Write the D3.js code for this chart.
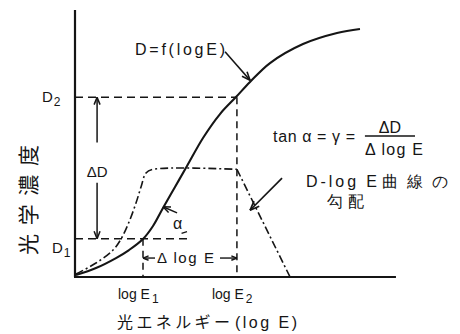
<!DOCTYPE html>
<html><head><meta charset="utf-8">
<script src="https://cdn.jsdelivr.net/npm/d3@7"></script>
<style>
body{margin:0;background:#fff}
svg{display:block}
text{font-family:"Liberation Sans",Arial,sans-serif;fill:#151515}
</style></head><body>
<script>
// ---- data (logE units, density units) ----
const curveLogE = [0.031, 0.656, 1.281, 1.688, 2.125, 2.438, 2.75, 3.125, 3.5, 4.0, 4.531, 5.031, 5.469, 6.094, 7.125, 8.188, 8.906];
const curveD    = [0.022, 0.101, 0.213, 0.303, 0.427, 0.573, 0.775, 1.011, 1.247, 1.562, 1.831, 2.022, 2.191, 2.404, 2.618, 2.742, 2.787];
const gradLogE  = [0.031, 0.656, 1.188, 1.438, 1.688, 1.906, 2.063, 2.219, 2.438, 5.06];
const gradD     = [0.034, 0.157, 0.303, 0.427, 0.618, 0.831, 1.011, 1.169, 1.21, 1.21];
const fallLogE  = [5.06, 6.72];
const fallD     = [1.21, 0];
const logE1 = 2.125, logE2 = 5.06, D1 = 0.43, D2 = 2.02;
const xTickLabels = [{text: "log E", sub: "1", v: logE1}, {text: "log E", sub: "2", v: logE2}];
const yTickLabels = [{text: "D", sub: "1", v: D1}, {text: "D", sub: "2", v: D2}];

const W = 460, H = 334;
const x = d3.scaleLinear().domain([0, 10]).range([75, 395]);
const y = d3.scaleLinear().domain([0, 3]).range([277, 10]);

const svg = d3.select("body").append("svg").attr("width", W).attr("height", H);
const ink = "#151515";

function arrow(x1, y1, x2, y2, len = 8, sw = 1.6) {
  const X1 = x(x1), Y1 = y(y1), X2 = x(x2), Y2 = y(y2);
  svg.append("line").attr("x1", X1).attr("y1", Y1).attr("x2", X2).attr("y2", Y2)
    .attr("stroke", ink).attr("stroke-width", sw);
  const a = Math.atan2(Y1 - Y2, X1 - X2);
  [0.38, -0.38].forEach(d => {
    svg.append("line").attr("x1", X2).attr("y1", Y2)
      .attr("x2", X2 + len * Math.cos(a + d)).attr("y2", Y2 + len * Math.sin(a + d))
      .attr("stroke", ink).attr("stroke-width", sw);
  });
}

// axes
svg.append("line").attr("x1", x(0)).attr("x2", x(0)).attr("y1", y(0)).attr("y2", y(3))
  .attr("stroke", ink).attr("stroke-width", 2.2);
svg.append("line").attr("x1", x(0) - 1).attr("x2", x(10.03)).attr("y1", y(0)).attr("y2", y(0))
  .attr("stroke", ink).attr("stroke-width", 2.2);

// dashed guides
const dash = "8,5";
svg.append("line").attr("x1", x(0)).attr("x2", x(logE2)).attr("y1", y(D2)).attr("y2", y(D2))
  .attr("stroke", ink).attr("stroke-width", 1.5).attr("stroke-dasharray", dash);
svg.append("line").attr("x1", x(0)).attr("x2", x(3.5)).attr("y1", y(D1)).attr("y2", y(D1))
  .attr("stroke", ink).attr("stroke-width", 1.5).attr("stroke-dasharray", dash);
svg.append("line").attr("x1", x(logE1)).attr("x2", x(logE1)).attr("y1", y(D1)).attr("y2", y(0))
  .attr("stroke", ink).attr("stroke-width", 1.5).attr("stroke-dasharray", "7,5");
svg.append("line").attr("x1", x(logE2)).attr("x2", x(logE2)).attr("y1", y(D2)).attr("y2", y(0))
  .attr("stroke", ink).attr("stroke-width", 1.5).attr("stroke-dasharray", "7,5");

// D = f(logE) curve
const line = d3.line().x(d => x(d[0])).y(d => y(d[1])).curve(d3.curveCatmullRom.alpha(0.5));
svg.append("path").attr("d", line(curveLogE.map((v, i) => [v, curveD[i]])))
  .attr("fill", "none").attr("stroke", ink).attr("stroke-width", 2.1);

// gradient curve (dash-dot)
const dd = "8,3,2,3";
svg.append("path").attr("d", line(gradLogE.map((v, i) => [v, gradD[i]])))
  .attr("fill", "none").attr("stroke", ink).attr("stroke-width", 1.6).attr("stroke-dasharray", dd);
svg.append("path").attr("d", d3.line().x(d => x(d[0])).y(d => y(d[1]))(fallLogE.map((v, i) => [v, fallD[i]])))
  .attr("fill", "none").attr("stroke", ink).attr("stroke-width", 1.6).attr("stroke-dasharray", dd);

// Delta D arrows
arrow(0.69, 1.51, 0.69, D2, 8, 1.5);
arrow(0.69, 1.06, 0.69, D1, 8, 1.5);
svg.append("text").attr("x", x(0.69)).attr("y", y(1.12)).attr("text-anchor", "middle")
  .attr("font-size", 15).text("ΔD");

// Delta logE arrows
arrow(2.5, 0.213, logE1, 0.213, 6, 1.4);
arrow(4.53, 0.213, logE2, 0.213, 6, 1.4);
svg.append("text").attr("x", x(2.56)).attr("y", y(0.157)).attr("font-size", 15)
  .attr("textLength", 57).attr("lengthAdjust", "spacing").text("Δ log E");

// alpha
arrow(3.19, 0.72, 2.75, 0.79, 8, 1.5);
svg.append("text").attr("x", x(3.06)).attr("y", y(0.54)).attr("font-size", 16).text("α");
svg.append("line").attr("x1", x(3.33)).attr("y1", y(0.49)).attr("x2", x(3.5)).attr("y2", y(0.51))
  .attr("stroke", ink).attr("stroke-width", 1.3);

// D = f(logE)
svg.append("text").attr("x", x(1.875)).attr("y", y(2.49)).attr("font-size", 16)
  .attr("textLength", 90).attr("lengthAdjust", "spacing").text("D=f(logE)");
arrow(4.69, 2.53, 5.47, 2.21, 9, 1.6);

// tan alpha formula
svg.append("text").attr("x", x(6.19)).attr("y", y(1.52)).attr("font-size", 16)
  .attr("textLength", 82).attr("lengthAdjust", "spacing").text("tan α = γ =");
svg.append("text").attr("x", x(9.84)).attr("y", y(1.62)).attr("font-size", 16)
  .attr("text-anchor", "middle").text("ΔD");
svg.append("line").attr("x1", x(9.06)).attr("x2", x(10.625)).attr("y1", y(1.585)).attr("y2", y(1.585))
  .attr("stroke", ink).attr("stroke-width", 1.4);
svg.append("text").attr("x", x(9.06)).attr("y", y(1.373)).attr("font-size", 16)
  .attr("textLength", 58).attr("lengthAdjust", "spacing").text("Δ log E");

// gradient label
svg.append("text").attr("x", x(7.22)).attr("y", y(1.01)).attr("font-size", 16)
  .attr("textLength", 71).attr("lengthAdjust", "spacing").text("D-log E");
svg.append("text").attr("x", x(9.59)).attr("y", y(1.01)).attr("font-size", 16)
  .attr("textLength", 66).attr("lengthAdjust", "spacing").text("曲線の");
svg.append("text").attr("x", x(7.875)).attr("y", y(0.79)).attr("font-size", 16)
  .attr("textLength", 37).attr("lengthAdjust", "spacing").text("勾配");
arrow(6.47, 1.11, 5.47, 0.75, 10, 1.7);

// x tick labels
xTickLabels.forEach(t => {
  const tx = svg.append("text").attr("x", x(t.v) - 25).attr("y", 299).attr("font-size", 14);
  tx.append("tspan").text(t.text);
  tx.append("tspan").attr("dx", 2).attr("dy", 4).attr("font-size", 12).text(t.sub);
});
// y tick labels
yTickLabels.forEach(t => {
  const isTop = t.sub === "2";
  const tx = svg.append("text").attr("x", isTop ? 42 : 52).attr("y", y(t.v) + (isTop ? 5 : 14)).attr("font-size", 15);
  tx.append("tspan").text(t.text);
  tx.append("tspan").attr("dx", 1).attr("dy", 4).attr("font-size", 12).text(t.sub);
});

// axis titles
svg.append("text").attr("transform", "translate(36,200) rotate(-90)").attr("text-anchor", "middle")
  .attr("font-size", 21).attr("textLength", 110).attr("lengthAdjust", "spacing")
  .style("font-family", "'Noto Sans CJK JP',sans-serif").text("光学濃度");
svg.append("text").attr("x", 117).attr("y", 328).attr("font-size", 16)
  .attr("textLength", 113).attr("lengthAdjust", "spacing")
  .style("font-family", "'Noto Sans CJK JP',sans-serif").text("光エネルギー");
svg.append("text").attr("x", 235).attr("y", 328).attr("font-size", 16)
  .attr("textLength", 62).attr("lengthAdjust", "spacing").text("(log E)");
</script>
</body></html>
